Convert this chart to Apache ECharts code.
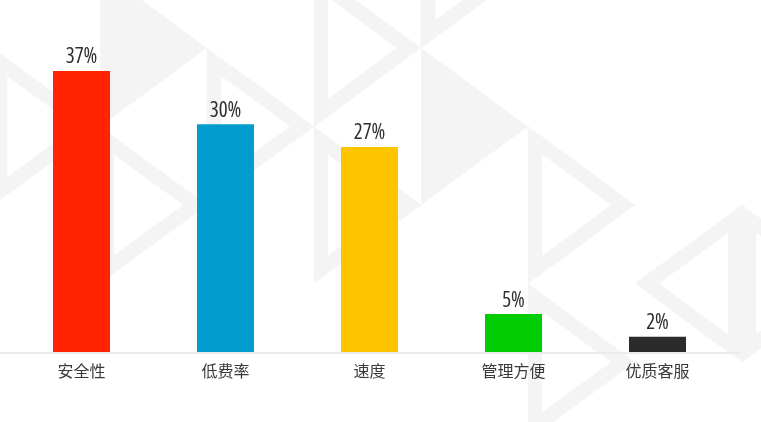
<!DOCTYPE html>
<html>
<head>
<meta charset="utf-8">
<script src="https://cdn.jsdelivr.net/npm/echarts@6/dist/echarts.min.js"></script>
<style>html,body{margin:0;padding:0;background:#fff;}#c{width:761px;height:422px;}</style>
</head>
<body>
<div id="c"></div>
<script>
// ---- data ----
const categories = ['安全性', '低费率', '速度', '管理方便', '优质客服'];
const shares = [37, 30, 27, 5, 2];
const barColors = ['#ff2300', '#029ccf', '#ffc400', '#02cc02', '#2b2b2b'];

// ---- decorative background (light triangle lattice) ----
const bg = '#f4f4f4';
const band = 14;
const outlineTris = [
  [[-7,48],[-7,205],[100,126.5]],
  [[100,126.5],[100,283.5],[207,205]],
  [[207,48],[207,205],[314,126.5]],
  [[314,-30.5],[314,126.5],[421,48]],
  [[314,126.5],[314,283.5],[421,205]],
  [[421,-109],[421,48],[528,-30.5]],
  [[528,126.5],[528,283.5],[635,205]],
  [[528,283.5],[528,440.5],[635,362]],
  [[635,283.5],[742,205],[742,362]],
  [[742,205],[742,362],[849,283.5]]
];
const filledTris = [
  [[100,-30.5],[100,126.5],[207,48]],
  [[421,48],[421,205],[528,126.5]]
];
function insetTri(p, w) {
  const d = (a, b) => Math.hypot(a[0]-b[0], a[1]-b[1]);
  const a = d(p[1], p[2]), b = d(p[0], p[2]), c = d(p[0], p[1]);
  const s = a + b + c;
  const ix = (a*p[0][0] + b*p[1][0] + c*p[2][0]) / s;
  const iy = (a*p[0][1] + b*p[1][1] + c*p[2][1]) / s;
  const area = Math.abs((p[1][0]-p[0][0])*(p[2][1]-p[0][1]) - (p[2][0]-p[0][0])*(p[1][1]-p[0][1])) / 2;
  const r = 2 * area / s;
  const k = (r - w) / r;
  return p.map(q => [ix + (q[0]-ix)*k, iy + (q[1]-iy)*k]);
}
const graphics = [];
outlineTris.forEach(p => {
  const q = insetTri(p, band);
  for (let i = 0; i < 3; i++) {
    const j = (i + 1) % 3;
    graphics.push({
      type: 'polygon', z: -10, silent: true,
      shape: { points: [p[i], p[j], q[j], q[i]] },
      style: { fill: bg, stroke: bg, lineWidth: 0.5 }
    });
  }
});
filledTris.forEach(p => graphics.push({
  type: 'polygon', z: -10, silent: true,
  shape: { points: p },
  style: { fill: bg }
}));
graphics.push({
  type: 'line', z: -5, silent: true,
  shape: { x1: 0, y1: 353, x2: 740, y2: 353 },
  style: { stroke: '#ebebeb', lineWidth: 2 }
});

const chart = echarts.init(document.getElementById('c'));
chart.setOption({
  animation: false,
  backgroundColor: '#ffffff',
  graphic: graphics,
  grid: { left: 9.5, width: 720, top: 71, bottom: 70 },
  xAxis: {
    type: 'category',
    data: categories,
    axisLine: { show: false },
    axisTick: { show: false },
    axisLabel: {
      margin: 11,
      fontFamily: "'Noto Sans CJK SC', sans-serif",
      fontSize: 16,
      color: '#3a3a3a'
    }
  },
  yAxis: {
    type: 'value', min: 0, max: 37, show: false,
    splitLine: { show: false }
  },
  series: [{
    type: 'bar',
    barWidth: 57,
    data: shares.map((v, i) => ({ value: v, itemStyle: { color: barColors[i] } })),
    label: {
      show: true,
      position: 'top',
      distance: 3,
      formatter: '{c}%',
      fontFamily: "'Open Sans'",
      fontWeight: 'normal condensed',
      fontSize: 21,
      color: '#2e2e2e'
    }
  }]
});
</script>
</body>
</html>
